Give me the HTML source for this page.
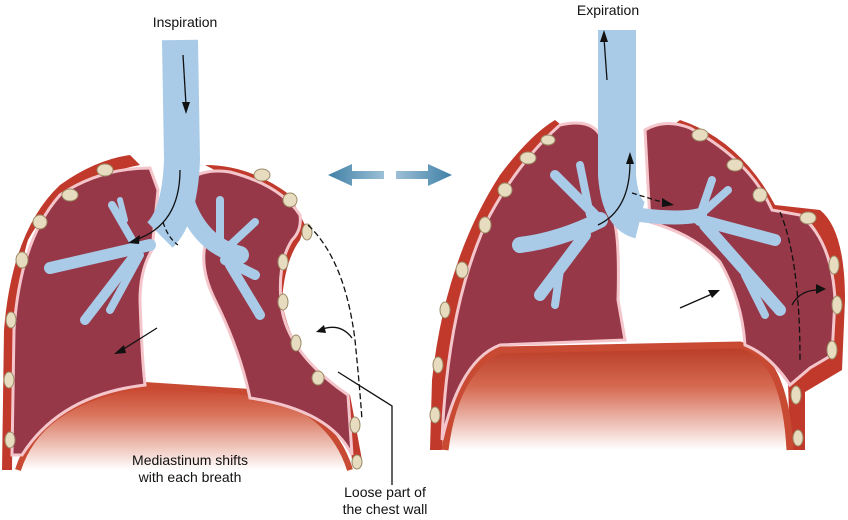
<!DOCTYPE html>
<html><head><meta charset="utf-8"><style>
html,body{margin:0;padding:0;background:#fff;width:848px;height:520px;overflow:hidden}
svg{display:block}
text{font-family:"Liberation Sans",sans-serif;font-size:14px;fill:#111}
</style></head><body>
<svg width="848" height="520" viewBox="0 0 848 520">
<defs>
<linearGradient id="dia" x1="0" y1="0" x2="0" y2="1">
<stop offset="0" stop-color="#c8432c"/><stop offset="0.35" stop-color="#d9745c"/><stop offset="1" stop-color="#fff"/>
</linearGradient>
<linearGradient id="dia2" x1="0" y1="0" x2="0" y2="1">
<stop offset="0" stop-color="#b83a25"/><stop offset="0.4" stop-color="#d66a52"/><stop offset="1" stop-color="#fff"/>
</linearGradient>
<linearGradient id="arr" x1="0" y1="0" x2="1" y2="0">
<stop offset="0" stop-color="#3f7fa6"/><stop offset="1" stop-color="#9cc0d6"/>
</linearGradient>
<linearGradient id="arr2" x1="0" y1="0" x2="1" y2="0">
<stop offset="0" stop-color="#9cc0d6"/><stop offset="1" stop-color="#3f7fa6"/>
</linearGradient>
</defs>

<!-- LEFT FIGURE -->
<path d="M2,470 L4,330 Q12,230 60,185 Q95,160 130,155 L140,165 Q60,180 28,240 Q14,280 12,470 Z" fill="#c0392b"/>
<path d="M205,165 Q250,165 290,195 L305,225 L300,240 Q285,200 230,178 Z" fill="#c0392b"/>
<path d="M300,240 Q285,260 282,300 Q290,360 350,395 L362,460 L352,460 L345,400 Q285,365 275,300 Q276,255 300,225 Z" fill="#c0392b"/>
<path d="M18,470 Q40,400 145,385 L250,392 Q330,405 350,470 Z" fill="url(#dia)"/>
<path d="M18,470 Q40,400 145,385 L250,392 Q330,405 350,470" fill="none" stroke="#c84a32" stroke-width="6"/>
<path d="M12,455 L14,330 Q20,240 60,195 Q100,168 150,168 L158,190 L152,250 Q140,270 140,300 Q142,360 145,385 Q60,395 22,455 Z" fill="#963848" stroke="#f4c6cc" stroke-width="3"/>
<path d="M188,180 Q205,168 230,172 Q280,185 300,215 Q302,230 292,240 Q276,265 282,310 Q290,355 348,395 L352,455 Q330,410 250,398 Q240,350 215,300 Q200,270 205,245 Z" fill="#963848" stroke="#f4c6cc" stroke-width="3"/>
<g fill="#e8dcc0" stroke="#9b8a66" stroke-width="1">
<ellipse cx="10" cy="440" rx="5" ry="8"/><ellipse cx="9" cy="380" rx="5" ry="8"/><ellipse cx="11" cy="320" rx="5" ry="8"/><ellipse cx="22" cy="260" rx="6" ry="8"/><ellipse cx="40" cy="222" rx="7" ry="7"/><ellipse cx="70" cy="195" rx="8" ry="6"/><ellipse cx="105" cy="170" rx="8" ry="6"/>
<ellipse cx="262" cy="175" rx="8" ry="6"/><ellipse cx="290" cy="200" rx="7" ry="7"/><ellipse cx="307" cy="232" rx="5" ry="8"/><ellipse cx="283" cy="262" rx="5" ry="8"/><ellipse cx="283" cy="302" rx="5" ry="8"/><ellipse cx="296" cy="343" rx="5" ry="8"/><ellipse cx="318" cy="378" rx="6" ry="7"/><ellipse cx="355" cy="425" rx="5" ry="8"/><ellipse cx="357" cy="462" rx="5" ry="7"/>
</g>
<g fill="none" stroke="#a9cbe8" stroke-linejoin="round">
<path d="M180,40 L182,160 Q180,215 160,235" stroke-width="36"/>
</g>
<g fill="none" stroke="#a9cbe8" stroke-linecap="round" stroke-linejoin="round">
<path d="M185,200 Q200,245 240,255" stroke-width="18"/>
<path d="M150,245 L50,268" stroke-width="12"/>
<path d="M135,255 L85,320" stroke-width="10"/>
<path d="M140,255 L110,310" stroke-width="8"/>
<path d="M135,245 L112,205" stroke-width="8"/>
<path d="M125,220 L120,200" stroke-width="6"/>
<path d="M220,250 L220,200" stroke-width="8"/>
<path d="M225,250 L255,222" stroke-width="8"/>
<path d="M225,260 L255,275" stroke-width="10"/>
<path d="M230,265 L260,315" stroke-width="10"/>
</g>
<g fill="none" stroke="#111" stroke-width="1.3">
<path d="M183,55 L186,105"/>
<path d="M180,170 Q180,225 135,240"/>
<path d="M163,222 Q168,238 178,245" stroke-dasharray="5,3"/>
<path d="M157,328 L122,350"/>
<path d="M308,225 Q345,260 355,340 Q360,390 362,420" stroke-dasharray="6,3"/>
<path d="M352,338 Q340,322 320,330"/>
<path d="M338,372 L392,406 L392,485"/>
</g>
<g fill="#111">
<path d="M186,114 L182,102 L190,102 Z"/>
<path d="M128,243 L140,235 L139,244 Z"/>
<path d="M114,354 L124,345 L126,353 Z"/>
<path d="M316,332 L324,325 L326,333 Z"/>
</g>

<path d="M328,175 L352,164 L352,171 L384,171 L384,179 L352,179 L352,186 Z" fill="url(#arr)"/>
<path d="M396,171 L428,171 L428,164 L452,175 L428,186 L428,179 L396,179 Z" fill="url(#arr2)"/>

<!-- RIGHT FIGURE -->
<path d="M430,450 L432,380 Q445,260 500,175 Q530,135 555,120 L565,128 Q520,160 490,215 Q448,300 442,450 Z" fill="#c0392b"/>
<path d="M680,120 Q740,140 775,205 L820,210 Q845,230 845,300 L842,370 L805,392 L805,450 L790,450 L788,380 L830,355 Q838,250 810,222 L770,215 Q730,150 670,128 Z" fill="#c0392b"/>
<path d="M445,450 Q455,370 500,350 L740,345 Q785,355 790,450 Z" fill="url(#dia2)"/>
<path d="M445,450 Q455,370 500,350 L740,345 Q785,355 790,450" fill="none" stroke="#c84a32" stroke-width="7"/>
<path d="M442,440 Q448,300 490,215 Q520,160 560,125 Q590,118 600,135 L612,215 Q620,230 618,300 L625,340 L500,345 Q460,360 442,440 Z" fill="#963848" stroke="#f4c6cc" stroke-width="3"/>
<path d="M645,130 Q665,118 690,128 Q750,160 772,210 L800,215 Q832,240 835,300 L832,355 L810,368 L790,385 Q770,355 745,345 Q742,300 720,262 Q695,235 650,222 Z" fill="#963848" stroke="#f4c6cc" stroke-width="3"/>
<g fill="#e8dcc0" stroke="#9b8a66" stroke-width="1">
<ellipse cx="435" cy="415" rx="5" ry="8"/><ellipse cx="438" cy="365" rx="5" ry="8"/><ellipse cx="445" cy="310" rx="5" ry="8"/><ellipse cx="462" cy="270" rx="6" ry="8"/><ellipse cx="485" cy="225" rx="6" ry="8"/><ellipse cx="505" cy="190" rx="7" ry="7"/><ellipse cx="528" cy="158" rx="8" ry="6"/><ellipse cx="548" cy="140" rx="7" ry="5"/>
<ellipse cx="700" cy="135" rx="8" ry="6"/><ellipse cx="735" cy="165" rx="8" ry="6"/><ellipse cx="760" cy="195" rx="7" ry="7"/><ellipse cx="808" cy="218" rx="8" ry="6"/><ellipse cx="834" cy="265" rx="5" ry="9"/><ellipse cx="837" cy="305" rx="5" ry="9"/><ellipse cx="832" cy="350" rx="5" ry="9"/><ellipse cx="796" cy="395" rx="5" ry="9"/><ellipse cx="798" cy="438" rx="5" ry="8"/>
</g>
<g fill="none" stroke="#a9cbe8" stroke-linejoin="round">
<path d="M617,30 L617,175 Q620,215 640,220" stroke-width="38"/>
</g>
<g fill="none" stroke="#a9cbe8" stroke-linecap="round" stroke-linejoin="round">
<path d="M600,220 Q560,240 520,245" stroke-width="16"/>
<path d="M595,215 L555,175" stroke-width="10"/>
<path d="M590,215 L580,165" stroke-width="8"/>
<path d="M585,235 L540,295" stroke-width="12"/>
<path d="M560,270 L555,305" stroke-width="8"/>
<path d="M640,215 Q680,220 700,215" stroke-width="14"/>
<path d="M700,215 L712,180" stroke-width="8"/>
<path d="M700,215 L728,190" stroke-width="8"/>
<path d="M700,220 L775,240" stroke-width="12"/>
<path d="M705,225 L780,310" stroke-width="12"/>
<path d="M745,275 L765,315" stroke-width="8"/>
</g>
<g fill="none" stroke="#111" stroke-width="1.3">
<path d="M607,80 L604,38"/>
<path d="M598,225 Q630,210 630,162"/>
<path d="M632,193 L665,203" stroke-dasharray="5,3"/>
<path d="M680,308 L712,294"/>
<path d="M780,212 Q800,260 800,360" stroke-dasharray="6,3"/>
<path d="M792,305 Q800,290 818,290"/>
</g>
<g fill="#111">
<path d="M604,30 L600,42 L608,42 Z"/>
<path d="M630,152 L626,164 L634,164 Z"/>
<path d="M674,205 L662,198 L662,207 Z"/>
<path d="M720,290 L708,290 L712,298 Z"/>
<path d="M826,289 L816,284 L816,294 Z"/>
</g>

<text x="185" y="27" text-anchor="middle">Inspiration</text>
<text x="608" y="15" text-anchor="middle">Expiration</text>
<text x="190" y="465" text-anchor="middle">Mediastinum shifts</text>
<text x="190" y="482" text-anchor="middle">with each breath</text>
<text x="385" y="497" text-anchor="middle">Loose part of</text>
<text x="385" y="514" text-anchor="middle">the chest wall</text>
</svg>
</body></html>
